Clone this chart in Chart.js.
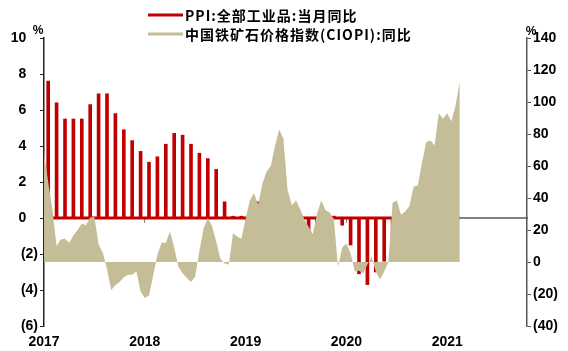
<!DOCTYPE html>
<html>
<head>
<meta charset="utf-8">
<script src="https://cdn.jsdelivr.net/npm/chart.js@4.4.0/dist/chart.umd.min.js"></script>
<style>
  html, body { margin: 0; padding: 0; background: #fff; }
</style>
</head>
<body>
<canvas id="chart" width="568" height="351"></canvas>
<script>
// PPI YoY (%), one value per month starting Mar 2017
const ppiStart = { year: 2017, month: 3 };
const ppiValues = [
  7.6, 6.4, 5.5, 5.5, 5.5, 6.3, 6.9, 6.9, 5.8, 4.9,
  4.3, 3.7, 3.1, 3.4, 4.1, 4.7, 4.6, 4.1, 3.6, 3.3, 2.7, 0.9,
  0.1, 0.1, 0.4, 0.9, 0.6, 0.0, -0.3, -0.8, -1.2, -1.6, -1.4, -0.5,
  0.1, -0.4, -1.5, -3.1, -3.7, -3.0, -2.4, -2.0, -2.1, -2.1, -1.5, -0.4,
  0.3
];

// CIOPI YoY (%), half-month steps starting Mar 2017
const ciopiValues = [
  68, 50, 33, 10, 14, 14.5, 12, 16.5, 20, 24,
  23, 28, 28, 11, 6, -4.5, -17.5, -14.5, -12.5, -9.5,
  -8, -8, -6, -18.5, -22.5, -21, -8.5, 4.5, 12, 12,
  19, 9, -3, -7, -10, -12.5, -9, 7, 21, 27.5,
  22.5, 13, 2, -1, -1.5, 18, 16, 14.5, 27, 38.5,
  43, 36, 49, 56.5, 60, 72.5, 83, 77, 45, 35.5,
  38.5, 33, 26.5, 22, 17.5, 30, 38.5, 32.5, 31, 27,
  -3, 9, 11.5, 5.5, -6, -5.5, -7, -1.5, 3.5, -6,
  -11, -6, 0, 37, 38.5, 29.5, 31.5, 35, 47, 48,
  62, 75, 76, 73, 93, 89.5, 93, 88, 98, 113
];

const yearLabels = ['2017', '2018', '2019', '2020', '2021'];
const seriesNames = ['PPI:全部工业品:当月同比', '中国铁矿石价格指数(CIOPI):同比'];

const RED = '#C00000';
const TAN = '#C4BD97';
const AXIS_FONT = { family: '"Liberation Sans", Arial, sans-serif', size: 14, weight: 'bold' };
const MONTHS_SHOWN = 57.5;

// x runs in months from the start of Mar 2017
const ppiPoints = ppiValues.map((v, i) => ({ x: i + 0.5, y: v }));
const ciopiPoints = ciopiValues.map((v, i) => ({ x: i / 2, y: v }));
const baseline = [
  { x: 0, y: 0 },
  { x: ciopiPoints[ciopiPoints.length - 1].x, y: 0 }
];

function yearTicks(axis) {
  axis.ticks = yearLabels.map((_, i) => ({ value: i * 12 }));
}

function bracketed(v, pad) {
  return v < 0 ? '(' + (-v) + ')' : String(v) + pad;
}

// series key on top, plus the % marks over both axes
const header = {
  id: 'header',
  afterDraw(chart) {
    const c = chart.ctx;
    const colors = [RED, TAN];
    const rows = [15, 34];
    c.save();
    rows.forEach((y, i) => {
      c.strokeStyle = colors[i];
      c.lineWidth = 3;
      c.beginPath();
      c.moveTo(148, y);
      c.lineTo(183, y);
      c.stroke();
      c.fillStyle = '#000';
      c.font = 'bold 14px "Noto Sans CJK SC", sans-serif';
      c.letterSpacing = '1px';
      c.textBaseline = 'middle';
      c.textAlign = 'left';
      c.fillText(seriesNames[i], 185, y + 1);
    });
    c.letterSpacing = '0px';
    c.font = 'bold 12px "Liberation Sans", Arial, sans-serif';
    c.textAlign = 'center';
    c.fillText('%', 38, 31);
    c.fillText('%', 531, 32);
    c.restore();
  }
};

new Chart(document.getElementById('chart'), {
  type: 'bar',
  data: {
    datasets: [
      {
        type: 'line',
        label: seriesNames[1],
        data: ciopiPoints,
        xAxisID: 'x',
        yAxisID: 'y1',
        fill: 'origin',
        backgroundColor: TAN,
        borderWidth: 0,
        pointRadius: 0,
        tension: 0,
        order: 0
      },
      {
        type: 'bar',
        label: seriesNames[0],
        data: ppiPoints,
        xAxisID: 'x',
        yAxisID: 'y',
        backgroundColor: RED,
        barThickness: 3,
        order: 1
      },
      {
        type: 'line',
        data: baseline,
        xAxisID: 'x',
        yAxisID: 'y',
        borderColor: RED,
        borderWidth: 3,
        pointRadius: 0,
        order: 2
      }
    ]
  },
  options: {
    responsive: false,
    animation: false,
    layout: { padding: { top: 38 } },
    plugins: {
      legend: { display: false },
      tooltip: { enabled: false }
    },
    scales: {
      x: {
        type: 'linear',
        position: 'bottom',
        offset: false,
        min: 0,
        max: MONTHS_SHOWN,
        grid: { display: false, drawTicks: false, offset: false },
        border: { display: false },
        afterBuildTicks: yearTicks,
        ticks: {
          callback: (v, i) => yearLabels[i],
          font: AXIS_FONT,
          color: '#000',
          padding: 8,
          maxRotation: 0,
          autoSkip: false
        },
        afterFit: s => { s.height = 25; }
      },
      xZero: {
        axis: 'x',
        type: 'linear',
        position: { y: 0 },
        offset: false,
        min: 0,
        max: MONTHS_SHOWN,
        grid: { drawOnChartArea: false, tickLength: 4, color: '#808080', offset: false },
        border: { color: '#808080', width: 2 },
        afterBuildTicks: yearTicks,
        ticks: { display: false }
      },
      y: {
        position: 'left',
        min: -6,
        max: 10,
        grid: { drawOnChartArea: false, tickLength: 4, color: '#222' },
        border: { color: '#222', width: 1.5 },
        ticks: {
          stepSize: 2,
          callback: v => bracketed(v, '   '),
          font: AXIS_FONT,
          color: '#000',
          padding: 2
        },
        afterFit: s => { s.width = 44; }
      },
      y1: {
        position: 'right',
        min: -40,
        max: 140,
        grid: { drawOnChartArea: false, tickLength: 4, color: '#555' },
        border: { color: '#555', width: 1.5 },
        ticks: {
          stepSize: 20,
          callback: v => bracketed(v, ''),
          font: AXIS_FONT,
          color: '#000',
          padding: 2
        },
        afterFit: s => { s.width = 41; }
      }
    }
  },
  plugins: [header]
});
</script>
</body>
</html>
